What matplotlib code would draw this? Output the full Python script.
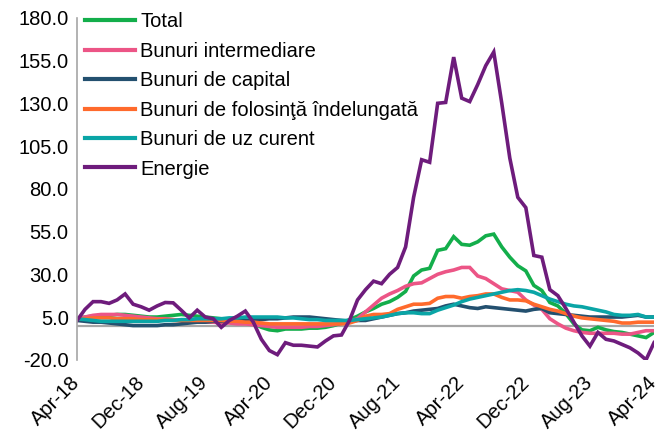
import numpy as np
import pandas as pd
import matplotlib
matplotlib.use("Agg")
import matplotlib.pyplot as plt

plt.rcParams['font.family'] = ['Liberation Sans', 'DejaVu Sans']
plt.rcParams['axes.unicode_minus'] = False

# monthly data, Apr-18 .. Apr-24
months = pd.date_range('2018-04-01', periods=73, freq='MS')
month_labels = [m.strftime('%b-%y') for m in months]

total = [4, 5, 5.5, 6, 6, 6.5, 6.5, 6, 5.5, 5, 5, 5.5, 6, 6.5, 6, 5.5, 5, 4.5, 4, 3.5,
         3.5, 3, 1.5, -1, -2.5, -3, -2, -2, -2, -1.5, -1.5, -1, 0, 1.5, 3.5, 5.5, 8, 10,
         12.5, 14, 16.5, 20, 29, 32.5, 33.5, 44, 45, 52, 47.5, 47, 49, 52.5, 53.5, 46, 40,
         35, 32, 23.5, 20.5, 13.5, 11.5, 7, 1, -2.5, -3, -1, -2.5, -3.5, -4, -5, -6, -7, -4]
intermediare = [4, 5, 6, 6.5, 6.5, 6.5, 6, 5.5, 5, 4.5, 4, 4, 3.5, 3, 2.5, 2, 2, 2, 1.5, 1.5,
                1, 1, 0.5, 0, -0.5, -1, -1, -1, -1, -0.5, -0.5, 0, 0.5, 1.5, 2.5, 4, 8, 12,
                16, 18.5, 20.5, 23, 24.5, 25, 27.5, 30, 31.5, 32.5, 34, 34, 29, 27.5, 24.5,
                21.5, 20.5, 19.5, 15, 12, 9.5, 4, 1, -1.5, -3, -4, -4.5, -4.5, -4.5, -4.5,
                -5, -5, -4, -3, -3]
capital = [3, 2.5, 2, 2, 1.5, 1, 0.5, 0, 0, 0, 0, 0.5, 0.5, 1, 1.5, 2, 2, 2.5, 2.5, 2.5,
           3, 3, 3.5, 3.5, 4, 4, 4.5, 5, 5, 5, 4.5, 4, 3.5, 3, 2.5, 3, 3, 4, 5, 6, 7, 7.5,
           8.5, 9, 9.5, 10, 11.5, 12.5, 11.5, 10.5, 10, 11, 10.5, 10, 9.5, 9, 8.5, 9.5, 10,
           7.5, 7, 6.5, 6, 5.5, 5, 5, 5, 5, 5, 5.5, 6, 5, 5]
folosinta = [4, 4, 4.5, 4.5, 4.5, 4, 4, 4, 3.5, 3.5, 3.5, 3.5, 3, 3, 3, 3, 3, 3, 3, 2.5,
             2.5, 2, 2, 1.5, 1, 1, 1, 1, 1, 1, 1, 1, 1, 1, 1.5, 3, 5.5, 6.5, 6.5, 7, 9.5,
             11, 12.5, 12.5, 13, 16, 17, 17, 16, 17, 17.5, 18.5, 18.5, 16.5, 15, 15, 14.5,
             12.5, 11, 9.5, 8.5, 7, 5.5, 4.5, 4, 3.5, 3, 2.5, 1.5, 1.5, 2, 2, 2]
uz_curent = [4, 3.5, 3, 2.5, 2.5, 2.5, 2.5, 2.5, 2.5, 2.5, 2.5, 3, 3, 3.5, 3.5, 4, 4, 4, 4,
             4.5, 4.5, 5, 5, 5, 5, 5, 4.5, 4.5, 4, 3.5, 3.5, 3, 3, 3, 3, 3.5, 4, 4.5, 5, 6,
             7, 7.5, 7.5, 7, 7, 9, 10.5, 12, 14, 15.5, 16.5, 17.5, 18.5, 19.5, 20.5, 21,
             20.5, 19.5, 17.5, 15.5, 14, 12.5, 11.5, 11, 10, 9, 8, 6.5, 6, 6, 6.5, 5, 5]
energie = [3, 9.5, 14, 14, 13, 15, 18.5, 12.5, 11, 9, 11.5, 13.5, 13.3, 9, 4.5, 9, 5, 4,
           -1, 3, 5.5, 8.5, 2, -8, -14.6, -17, -10, -11.5, -11.5, -12, -12.5, -9, -6, -5.5,
           3, 15, 21, 26, 24.5, 30, 34, 46, 75, 97, 95.5, 130, 130.5, 157, 133, 131, 141,
           152, 160, 130, 98, 75, 69, 41, 40, 21, 17.5, 10, 2, -6, -12, -4, -8, -9, -11,
           -13, -16, -20, -10]

series = [
    ('Total', total, '#13AE4B'),
    ('Bunuri intermediare', intermediare, '#EC5586'),
    ('Bunuri de capital', capital, '#23506F'),
    ('Bunuri de folosinţă îndelungată', folosinta, '#FF6A2C'),
    ('Bunuri de uz curent', uz_curent, '#0AA5A6'),
    ('Energie', energie, '#6E1C7C'),
]

fig = plt.figure(figsize=(6.64, 4.34), dpi=100)
ax = fig.add_axes([0.116, 0.171, 0.869, 0.788])

x = np.arange(len(months))
ax.axhline(0, color='#A6A6A6', lw=1.6, zorder=1)
for name, vals, col in series:
    ax.plot(x, vals, color=col, lw=2.6, label=name, solid_joinstyle='miter', zorder=2)

ax.set_xlim(0, len(months) - 1)
ax.set_ylim(-20, 180)
ax.set_yticks(np.arange(-20, 181, 25))
ax.set_yticklabels([f'{v:.1f}' for v in np.arange(-20, 181, 25)])
ax.set_xticks(x[::8])
ax.set_xticklabels(month_labels[::8], rotation=45, ha='right', va='center',
                   rotation_mode='anchor')
ax.tick_params(axis='both', length=0, labelsize=14.5, colors='#000000')
ax.tick_params(axis='y', pad=6)
ax.tick_params(axis='x', pad=14)

for s in ['top', 'right', 'bottom']:
    ax.spines[s].set_visible(False)
ax.spines['left'].set_color('#A6A6A6')
ax.spines['left'].set_linewidth(1.2)

leg = ax.legend(loc='upper left', bbox_to_anchor=(0.128, 0.972), bbox_transform=fig.transFigure,
                frameon=False, fontsize=14.5, handlelength=2.5, handletextpad=0.25,
                labelspacing=0.52, borderpad=0, borderaxespad=0)
for line in leg.get_lines():
    line.set_linewidth(3)

fig.savefig('out.png', dpi=100)
